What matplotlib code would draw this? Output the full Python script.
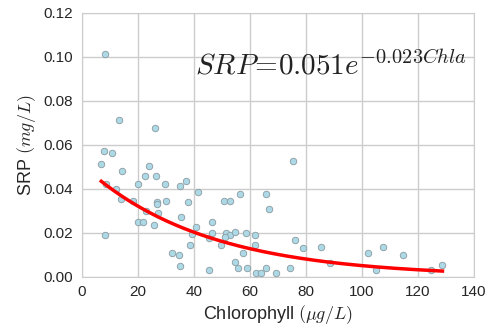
import numpy as np
import matplotlib
matplotlib.use("Agg")
import matplotlib.pyplot as plt

chla = [8.3, 13.2, 26.1, 7.9, 10.7, 7.0, 14.4, 24.2, 22.7, 26.5, 20.2, 29.8, 35.2, 37.3,
        41.5, 8.8, 12.4, 13.9, 18.2, 26.8, 26.8, 30.2, 37.9, 22.9, 27.4, 35.5, 20.1, 21.9,
        26.0, 40.8, 46.5, 39.4, 45.5, 46.5, 8.3, 38.5, 32.3, 34.7, 35.2, 45.5,
        75.4, 56.7, 65.9, 50.9, 53.0, 66.9, 51.4, 53.0, 54.7, 51.1, 49.6, 58.8, 62.0, 62.0,
        57.5, 76.1, 79.0, 85.6, 88.8, 54.9, 55.9, 59.2, 62.3, 64.1, 65.9, 69.4, 74.5,
        102.3, 107.6, 114.7, 105.0, 124.6, 128.8]
srp = [0.1014, 0.0714, 0.0676, 0.0574, 0.0562, 0.0514, 0.0483, 0.0505, 0.0456, 0.0456,
       0.0424, 0.0424, 0.0414, 0.0435, 0.0386, 0.0424, 0.0399, 0.0353, 0.0345, 0.0341,
       0.0330, 0.0345, 0.0340, 0.0297, 0.0288, 0.0270, 0.0249, 0.0249, 0.0236, 0.0226,
       0.0250, 0.0197, 0.0177, 0.0200, 0.0190, 0.0145, 0.0108, 0.0099, 0.0050, 0.0029,
       0.0526, 0.0377, 0.0377, 0.0344, 0.0344, 0.0308, 0.0200, 0.0188, 0.0206, 0.0179,
       0.0145, 0.0200, 0.0190, 0.0147, 0.0109, 0.0168, 0.0130, 0.0136, 0.0065, 0.0067,
       0.0041, 0.0041, 0.0017, 0.0017, 0.0041, 0.0017, 0.0041,
       0.0108, 0.0136, 0.0099, 0.0029, 0.0029, 0.0056]
fit_a = 0.051
fit_b = -0.023

plt.rcParams['font.family'] = ['Liberation Sans', 'DejaVu Sans']
plt.rcParams['mathtext.fontset'] = 'cm'

fig = plt.figure(figsize=(4.89, 3.30), dpi=100)
ax = fig.add_axes([0.167, 0.161, 0.802, 0.8005])

ax.scatter(chla, srp, s=22, facecolor='#add8e6', edgecolor='#8a9aa0', linewidth=0.6, zorder=3)
xs = np.linspace(min(chla), max(chla), 200)
ax.plot(xs, fit_a * np.exp(fit_b * xs), color='red', lw=2.5, zorder=4)

ax.text(40.6, 0.0918, r'$SRP\!=\!0.051e^{-0.023 Chla}$', fontsize=21, color='#222222')

ax.set_xlim(0, 140)
ax.set_ylim(0, 0.12)
ax.set_xticks(np.arange(0, 141, 20))
ax.set_yticks(np.arange(0, 0.121, 0.02))
ax.set_yticklabels([f'{v:.2f}' for v in np.arange(0, 0.121, 0.02)])
ax.grid(True, color='#cccccc', lw=1)
ax.set_axisbelow(True)
for s in ax.spines.values():
    s.set_color('#cccccc')
ax.tick_params(length=0, labelsize=11, colors='#262626', pad=6)
ax.set_xlabel(r'Chlorophyll $(\mu g/L)$', fontsize=13, color='#262626', labelpad=3)
ax.set_ylabel(r'SRP $(mg/L)$', fontsize=13, color='#262626')

fig.savefig('out.png', dpi=100)
